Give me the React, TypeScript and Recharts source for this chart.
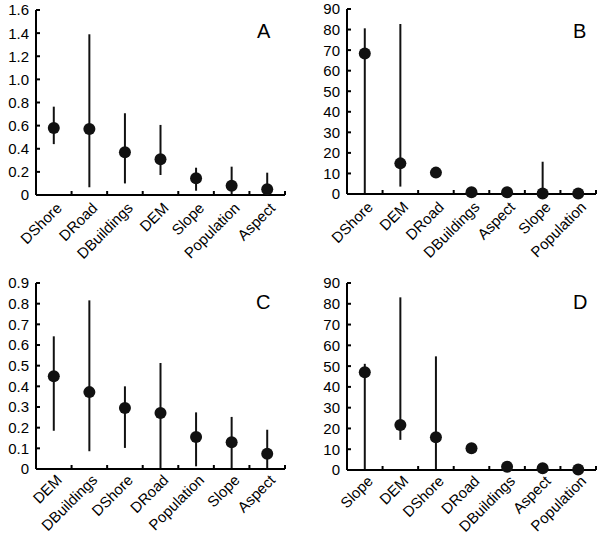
import React from 'react'
import { ScatterChart, Scatter, XAxis, YAxis, ErrorBar } from 'recharts'

// panel A
const namesA = ['DShore', 'DRoad', 'DBuildings', 'DEM', 'Slope', 'Population', 'Aspect']
const valuesA = [0.58, 0.57, 0.37, 0.31, 0.144, 0.08, 0.05]
const lowA = [0.44, 0.067, 0.1, 0.173, 0.037, 0, 0]
const highA = [0.764, 1.39, 0.707, 0.606, 0.236, 0.245, 0.193]
const ticksA = [0, 0.2, 0.4, 0.6, 0.8, 1.0, 1.2, 1.4, 1.6]

// panel B
const namesB = ['DShore', 'DEM', 'DRoad', 'DBuildings', 'Aspect', 'Slope', 'Population']
const valuesB = [68.4, 14.9, 10.4, 0.8, 0.8, 0.3, 0.3]
const lowB = [0, 3.6, 10.4, 0.8, 0.8, 0, 0.3]
const highB = [80.6, 82.7, 10.4, 0.8, 0.8, 15.7, 0.3]
const ticksB = [0, 10, 20, 30, 40, 50, 60, 70, 80, 90]

// panel C
const namesC = ['DEM', 'DBuildings', 'DShore', 'DRoad', 'Population', 'Slope', 'Aspect']
const valuesC = [0.449, 0.372, 0.295, 0.271, 0.155, 0.129, 0.074]
const lowC = [0.185, 0.086, 0.102, 0, 0.013, 0, 0]
const highC = [0.642, 0.816, 0.4, 0.513, 0.274, 0.252, 0.19]
const ticksC = [0, 0.1, 0.2, 0.3, 0.4, 0.5, 0.6, 0.7, 0.8, 0.9]

// panel D
const namesD = ['Slope', 'DEM', 'DShore', 'DRoad', 'DBuildings', 'Aspect', 'Population']
const valuesD = [47, 21.7, 15.8, 10.5, 1.6, 0.8, 0.2]
const lowD = [0, 14.5, 0, 10.5, 1.6, 0.8, 0.2]
const highD = [51.1, 83.1, 54.7, 10.5, 1.6, 0.8, 0.2]
const ticksD = [0, 10, 20, 30, 40, 50, 60, 70, 80, 90]

const font = 'Liberation Sans, Arial, sans-serif'
const INK = '#111'

// integer ticks get the rotated name, half ticks get a short inward mark
function XTick(props: any) {
  const { payload, names, gap } = props
  const x = Number(props.x)
  const y = Number(props.y)
  const v = payload.value
  if (!Number.isInteger(v)) {
    return <path d={`M${x},${y - gap}v-4`} stroke="#000" strokeWidth={2} />
  }
  return (
    <g transform={`translate(${x + 9},${y}) rotate(-45)`}>
      <text x={0} y={0} textAnchor="end" fill="#000" style={{ fontSize: 15, fontFamily: font }}>
        {names[v]}
      </text>
    </g>
  )
}

function YTick(props: any) {
  const { payload, gap, fmt } = props
  const x = Number(props.x)
  const y = Number(props.y)
  return (
    <g>
      <text x={x} y={y} dy="0.36em" textAnchor="end" fill="#000" style={{ fontSize: 15, fontFamily: font }}>
        {fmt(payload.value)}
      </text>
      <path d={`M${x + gap},${y}h4`} stroke="#000" strokeWidth={2} />
    </g>
  )
}

function Dot(props: any) {
  return <circle cx={props.cx} cy={props.cy} r={6} fill={INK} />
}

type PanelProps = {
  names: string[]
  values: number[]
  low: number[]
  high: number[]
  ticks: number[]
  fmt: (v: number) => string
  letter: string
  left: number
  top: number
  margin: { top: number; right: number; left: number; bottom: number }
  yWidth: number
  xHeight: number
  labelGap: number
  letterPos: { left: number; top: number }
}

function Panel(p: PanelProps) {
  const data = p.names.map((n, i) => ({
    x: i,
    y: p.values[i],
    err: [p.values[i] - p.low[i], p.high[i] - p.values[i]],
  }))
  const xticks: number[] = []
  p.names.forEach((_, i) => {
    xticks.push(i)
    xticks.push(i + 0.5)
  })
  const max = p.ticks[p.ticks.length - 1]

  return (
    <div style={{ position: 'absolute', left: p.left, top: p.top, width: 300, height: 268 }}>
      <ScatterChart width={300} height={268} margin={p.margin}>
        <XAxis
          type="number"
          dataKey="x"
          domain={[-0.5, p.names.length - 0.5]}
          ticks={xticks}
          interval={0}
          tickLine={false}
          tickSize={0}
          tickMargin={p.labelGap}
          axisLine={{ stroke: '#000', strokeWidth: 2 }}
          height={p.xHeight}
          tick={<XTick names={p.names} gap={p.labelGap} />}
        />
        <YAxis
          type="number"
          dataKey="y"
          domain={[0, max]}
          ticks={p.ticks}
          interval={0}
          width={p.yWidth}
          tickSize={0}
          tickMargin={7}
          tickLine={false}
          axisLine={{ stroke: '#000', strokeWidth: 2 }}
          tick={<YTick gap={7} fmt={p.fmt} />}
        />
        <Scatter data={data} fill={INK} shape={Dot} isAnimationActive={false}>
          <ErrorBar dataKey="err" direction="y" width={0} stroke={INK} strokeWidth={2} isAnimationActive={false} />
        </Scatter>
      </ScatterChart>
      <div
        style={{
          position: 'absolute',
          left: p.letterPos.left,
          top: p.letterPos.top,
          fontFamily: font,
          fontSize: 20,
          lineHeight: 1,
          color: '#000',
        }}
      >
        {p.letter}
      </div>
    </div>
  )
}

const fmtDec = (v: number) => (v === 0 ? '0' : v.toFixed(1))
const fmtInt = (v: number) => String(v)

export default function App() {
  return (
    <div style={{ position: 'absolute', left: 0, top: 0, width: 600, height: 536, background: '#fff' }}>
      <Panel
        names={namesA} values={valuesA} low={lowA} high={highA} ticks={ticksA} fmt={fmtDec} letter="A"
        left={0} top={0}
        margin={{ top: 10, right: 15, left: 0, bottom: 0 }}
        yWidth={36} xHeight={73} labelGap={14}
        letterPos={{ left: 257, top: 21 }}
      />
      <Panel
        names={namesB} values={valuesB} low={lowB} high={highB} ticks={ticksB} fmt={fmtInt} letter="B"
        left={300} top={0}
        margin={{ top: 9, right: 4, left: 0, bottom: 0 }}
        yWidth={47} xHeight={74} labelGap={14}
        letterPos={{ left: 273, top: 21 }}
      />
      <Panel
        names={namesC} values={valuesC} low={lowC} high={highC} ticks={ticksC} fmt={fmtDec} letter="C"
        left={0} top={268}
        margin={{ top: 15, right: 15, left: 0, bottom: 0 }}
        yWidth={36} xHeight={67} labelGap={12}
        letterPos={{ left: 256, top: 24 }}
      />
      <Panel
        names={namesD} values={valuesD} low={lowD} high={highD} ticks={ticksD} fmt={fmtInt} letter="D"
        left={300} top={268}
        margin={{ top: 15, right: 4, left: 0, bottom: 0 }}
        yWidth={47} xHeight={66} labelGap={12}
        letterPos={{ left: 273, top: 24 }}
      />
    </div>
  )
}
